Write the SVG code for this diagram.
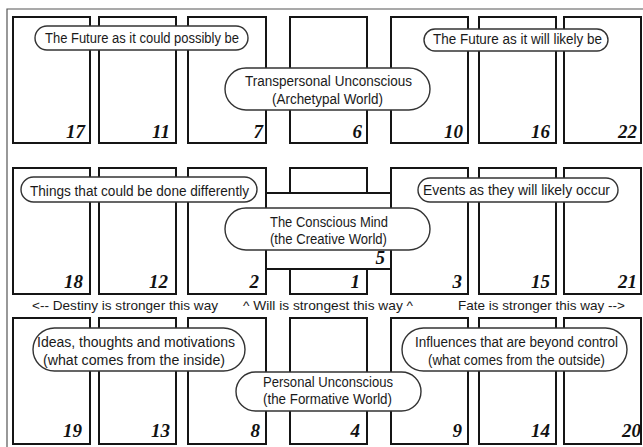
<svg xmlns="http://www.w3.org/2000/svg" width="643" height="447" viewBox="0 0 643 447">
<style>
.card{fill:#fff;stroke:#151515;stroke-width:2}
.pill{fill:#fff;stroke:#333;stroke-width:1.4}
.lbl{font-family:"Liberation Sans",Arial,sans-serif;font-size:14px;fill:#1a1a1a;text-anchor:middle}
.arr{font-family:"Liberation Sans",Arial,sans-serif;font-size:13px;fill:#1a1a1a;text-anchor:middle}
.num{font-family:"Liberation Serif","Times New Roman",serif;font-size:19px;font-weight:bold;font-style:italic;fill:#111;text-anchor:end}
</style>
<rect width="643" height="447" fill="#fff"/>
<g id="frame"><path d="M7,447 V9 H643" fill="none" stroke="#555" stroke-width="1.2"/></g>
<g id="connectors"></g>
<g id="cards">
<g id="card17"><rect class="card" x="13" y="17" width="77" height="126"/><text class="num" x="85" y="138">17</text></g>
<g id="card11"><rect class="card" x="99" y="17" width="77" height="126"/><text class="num" x="170" y="138">11</text></g>
<g id="card7"><rect class="card" x="188" y="17" width="78" height="126"/><text class="num" x="263" y="138">7</text></g>
<g id="card6"><rect class="card" x="290" y="17" width="77" height="126"/><text class="num" x="362" y="138">6</text></g>
<g id="card10"><rect class="card" x="391" y="17" width="77" height="126"/><text class="num" x="463" y="138">10</text></g>
<g id="card16"><rect class="card" x="479" y="17" width="77" height="126"/><text class="num" x="550" y="138">16</text></g>
<g id="card22"><rect class="card" x="564" y="17" width="77" height="126"/><text class="num" x="637" y="138">22</text></g>

<g id="card18"><rect class="card" x="13" y="168" width="77" height="126"/><text class="num" x="83" y="288">18</text></g>
<g id="card12"><rect class="card" x="99" y="168" width="77" height="126"/><text class="num" x="168" y="288">12</text></g>
<g id="card2"><rect class="card" x="188" y="168" width="78" height="126"/><text class="num" x="259" y="288">2</text></g>
<g id="card1"><rect class="card" x="290" y="168" width="77" height="126"/><text class="num" x="360" y="288">1</text></g>
<g id="card5"><rect class="card" x="266" y="193" width="125" height="76"/><text class="num" x="385" y="264">5</text></g>
<g id="card3"><rect class="card" x="391" y="168" width="77" height="126"/><text class="num" x="462" y="288">3</text></g>
<g id="card15"><rect class="card" x="479" y="168" width="77" height="126"/><text class="num" x="550" y="288">15</text></g>
<g id="card21"><rect class="card" x="564" y="168" width="77" height="126"/><text class="num" x="637" y="288">21</text></g>

<g id="card19"><rect class="card" x="13" y="318" width="77" height="126"/><text class="num" x="82" y="437">19</text></g>
<g id="card13"><rect class="card" x="99" y="318" width="77" height="126"/><text class="num" x="170" y="437">13</text></g>
<g id="card8"><rect class="card" x="188" y="318" width="78" height="126"/><text class="num" x="260" y="437">8</text></g>
<g id="card4"><rect class="card" x="290" y="318" width="77" height="126"/><text class="num" x="360" y="437">4</text></g>
<g id="card9"><rect class="card" x="391" y="318" width="77" height="126"/><text class="num" x="462" y="437">9</text></g>
<g id="card14"><rect class="card" x="479" y="318" width="77" height="126"/><text class="num" x="550" y="437">14</text></g>
<g id="card20"><rect class="card" x="564" y="318" width="77" height="126"/><text class="num" x="641" y="437">20</text></g>
</g>

<g id="labels">
<g id="pill-future-possible"><rect class="pill" x="35" y="26" width="213" height="24" rx="12"/><text class="lbl" x="142" y="43" textLength="194" lengthAdjust="spacingAndGlyphs">The Future as it could possibly be</text></g>
<g id="pill-transpersonal"><rect class="pill" x="225" y="68" width="205" height="42" rx="21"/><text class="lbl" x="328.5" y="86" textLength="167" lengthAdjust="spacingAndGlyphs">Transpersonal Unconscious</text><text class="lbl" x="327.5" y="104" textLength="111" lengthAdjust="spacingAndGlyphs">(Archetypal World)</text></g>
<g id="pill-future-likely"><rect class="pill" x="424" y="29" width="184" height="22" rx="11"/><text class="lbl" x="517.5" y="44" textLength="169" lengthAdjust="spacingAndGlyphs">The Future as it will likely be</text></g>
<g id="pill-things"><rect class="pill" x="21" y="177" width="236" height="25" rx="12.5"/><text class="lbl" x="139.5" y="196" textLength="219" lengthAdjust="spacingAndGlyphs">Things that could be done differently</text></g>
<g id="pill-conscious"><rect class="pill" x="225" y="208" width="205" height="42" rx="21"/><text class="lbl" x="329" y="227" textLength="118" lengthAdjust="spacingAndGlyphs">The Conscious Mind</text><text class="lbl" x="328.5" y="244" textLength="117" lengthAdjust="spacingAndGlyphs">(the Creative World)</text></g>
<g id="pill-events"><rect class="pill" x="418" y="178" width="200" height="24" rx="12"/><text class="lbl" x="516.5" y="195" textLength="187" lengthAdjust="spacingAndGlyphs">Events as they will likely occur</text></g>
<g id="pill-ideas"><rect class="pill" x="33" y="328" width="212" height="43" rx="21.5"/><text class="lbl" x="136" y="347" textLength="198" lengthAdjust="spacingAndGlyphs">Ideas, thoughts and motivations</text><text class="lbl" x="134" y="365" textLength="182" lengthAdjust="spacingAndGlyphs">(what comes from the inside)</text></g>
<g id="pill-personal"><rect class="pill" x="236" y="372" width="185" height="39" rx="19.5"/><text class="lbl" x="328" y="387" textLength="130" lengthAdjust="spacingAndGlyphs">Personal Unconscious</text><text class="lbl" x="327.5" y="404" textLength="129" lengthAdjust="spacingAndGlyphs">(the Formative World)</text></g>
<g id="pill-influences"><rect class="pill" x="402" y="328" width="225" height="43" rx="21.5"/><text class="lbl" x="516.5" y="347" textLength="203" lengthAdjust="spacingAndGlyphs">Influences that are beyond control</text><text class="lbl" x="516.5" y="365" textLength="177" lengthAdjust="spacingAndGlyphs">(what comes from the outside)</text></g>
</g>

<g id="directions">
<text class="arr" x="125" y="310" textLength="186" lengthAdjust="spacingAndGlyphs">&lt;-- Destiny is stronger this way</text>
<text class="arr" x="328" y="310" textLength="170" lengthAdjust="spacingAndGlyphs">^ Will is strongest this way ^</text>
<text class="arr" x="541.5" y="310" textLength="167" lengthAdjust="spacingAndGlyphs">Fate is stronger this way --&gt;</text>
</g>
</svg>
